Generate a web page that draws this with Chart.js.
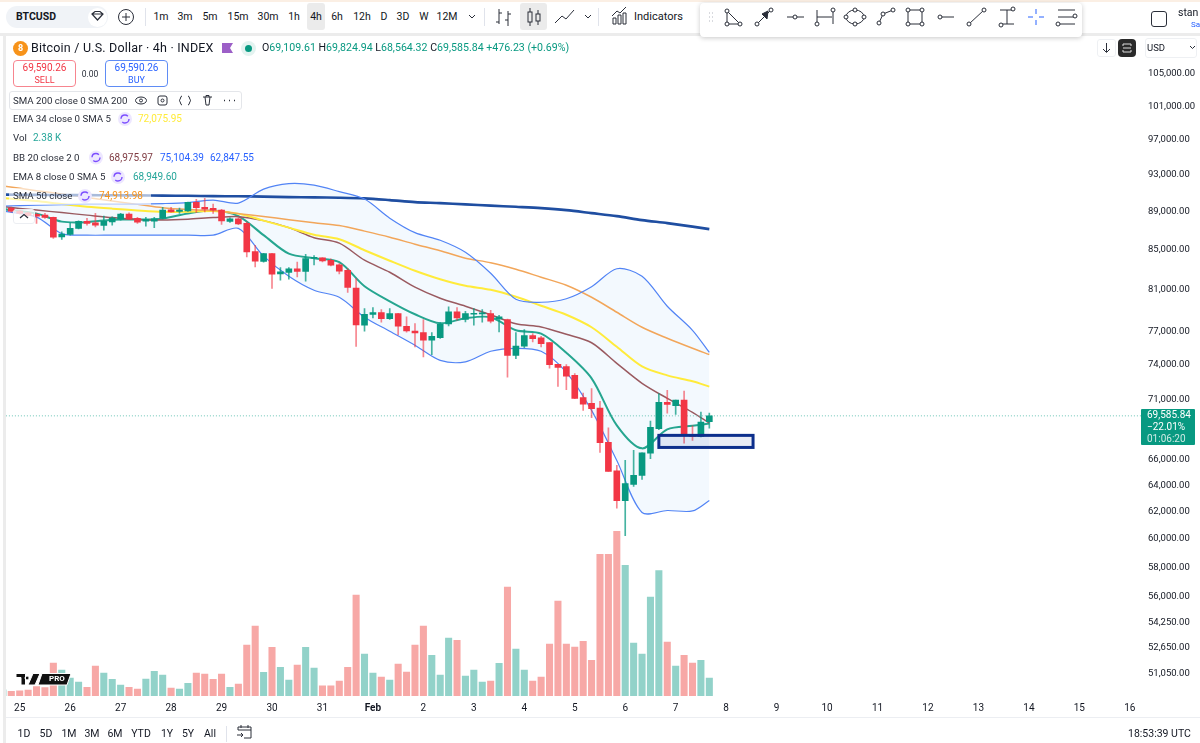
<!DOCTYPE html>
<html>
<head>
<meta charset="utf-8">
<title>BTCUSD 4h</title>
<script src="https://cdn.jsdelivr.net/npm/chart.js@4"></script>
<style>
html, body { margin: 0; padding: 0; background: #fff; }
body { width: 1200px; height: 743px; overflow: hidden; position: relative; font-family: Roboto, sans-serif; color: #131722; }
canvas { position: absolute; left: 0; top: 0; }
#icons { position: absolute; left: 0; top: 0; pointer-events: none; }
.t { position: absolute; white-space: nowrap; font-size: 10.5px; line-height: 14px; }
.c { transform: translateX(-50%); }
.box { position: absolute; box-sizing: border-box; }
.tf { font-size: 10.5px; top: 10px; }
.rng { font-size: 10.5px; top: 727px; }
.lg { font-size: 9.7px; color: #2a2e39; left: 13px; }
</style>
</head>
<body>
<canvas id="btc" width="1200" height="743"></canvas>

<!-- page chrome -->
<div class="box" style="left:0;top:0;width:1200px;height:2px;background:#fbefe4"></div>
<div class="box" style="left:0;top:2px;width:1200px;height:31px;background:#fff"></div>
<div class="box" style="left:0;top:33px;width:1200px;height:2.5px;background:#ececec"></div>
<div class="box" style="left:3px;top:33px;width:2.5px;height:710px;background:#ececec"></div>
<div class="box" style="left:6px;top:717px;width:1194px;height:1px;background:#eceef2"></div>

<!-- top toolbar -->
<div class="box" style="left:6px;top:6px;width:102px;height:22px;border-radius:11px;background:#f0f3f7"></div>
<div class="box" style="left:88px;top:7.5px;width:19px;height:19px;border-radius:50%;background:#fff"></div>
<div class="t" style="left:16px;top:10px;font-weight:700;font-size:10.5px">BTCUSD</div>
<div class="box" style="left:307px;top:3px;width:18px;height:27px;border-radius:3px;background:#ebebeb"></div>
<div class="box" style="left:520px;top:3px;width:27px;height:27px;border-radius:3px;background:#ebebeb"></div>
<div class="t c tf" style="left:161px">1m</div>
<div class="t c tf" style="left:185px">3m</div>
<div class="t c tf" style="left:210px">5m</div>
<div class="t c tf" style="left:238px">15m</div>
<div class="t c tf" style="left:268px">30m</div>
<div class="t c tf" style="left:294px">1h</div>
<div class="t c tf" style="left:316px">4h</div>
<div class="t c tf" style="left:337px">6h</div>
<div class="t c tf" style="left:362px">12h</div>
<div class="t c tf" style="left:384px">D</div>
<div class="t c tf" style="left:403px">3D</div>
<div class="t c tf" style="left:424px">W</div>
<div class="t c tf" style="left:447px">12M</div>
<div class="t tf" style="left:634px;font-size:11px">Indicators</div>

<!-- floating drawing toolbar -->
<div class="box" style="left:700px;top:3px;width:382px;height:34px;border-radius:4px;background:#fff;box-shadow:0 1px 5px rgba(0,0,0,.22)"></div>

<!-- account corner -->
<div class="box" style="left:1151px;top:11px;width:16px;height:16px;border:1.3px solid #2a2e39;border-radius:3px"></div>
<div class="t" style="left:1178px;top:6px;font-size:10.5px">stan</div>
<div class="t" style="left:1191px;top:18px;font-size:8px;color:#2962ff">Sa</div>

<!-- symbol header -->
<div class="box" style="left:13px;top:41px;width:15px;height:15px;border-radius:50%;background:#f7931a;color:#fff;font-size:9px;font-weight:700;text-align:center;line-height:15px">8</div>
<div class="t" style="left:31px;top:41px;font-size:12.5px;letter-spacing:.2px">Bitcoin / U.S. Dollar · 4h · INDEX</div>
<div class="box" style="left:241px;top:41px;width:15px;height:15px;border-radius:50%;background:#e3f3f0"></div>
<div class="box" style="left:245px;top:45px;width:7px;height:7px;border-radius:50%;background:#089981"></div>
<div class="t" style="left:262px;top:41px;font-size:10.6px;color:#089981"><span style="color:#131722">O</span>69,109.61 <span style="color:#131722">H</span>69,824.94 <span style="color:#131722">L</span>68,564.32 <span style="color:#131722">C</span>69,585.84 +476.23 (+0.69%)</div>

<!-- sell / buy -->
<div class="box" style="left:13px;top:60px;width:63px;height:27px;border:1px solid #f7858f;border-radius:4px"></div>
<div class="t c" style="left:44.5px;top:61px;color:#f23645;font-size:10px">69,590.26</div>
<div class="t c" style="left:44.5px;top:73px;color:#f23645;font-size:9px">SELL</div>
<div class="t c" style="left:90px;top:67px;font-size:8.5px;color:#2a2e39">0.00</div>
<div class="box" style="left:105px;top:60px;width:63px;height:27px;border:1px solid #5f8cf5;border-radius:4px"></div>
<div class="t c" style="left:136.5px;top:61px;color:#2962ff;font-size:10px">69,590.26</div>
<div class="t c" style="left:136.5px;top:73px;color:#2962ff;font-size:9px">BUY</div>

<!-- indicator legend -->
<div class="box" style="left:9px;top:91px;width:233px;height:19px;border:1px solid #e4e6ea;border-radius:3px;background:#fff"></div>
<div class="t lg" style="top:94px">SMA 200 close 0 SMA 200</div>
<div class="t lg" style="top:112px">EMA 34 close 0 SMA 5</div>
<div class="t" style="left:138px;top:112px;font-size:10px;color:#ffeb3b">72,075.95</div>
<div class="t lg" style="top:131px">Vol</div>
<div class="t" style="left:33px;top:131px;font-size:10px;color:#26a69a">2.38 K</div>
<div class="t lg" style="top:151px">BB 20 close 2 0</div>
<div class="t" style="left:109px;top:151px;font-size:10px;color:#7f3b42">68,975.97</div>
<div class="t" style="left:160px;top:151px;font-size:10px;color:#2962ff">75,104.39</div>
<div class="t" style="left:210px;top:151px;font-size:10px;color:#2962ff">62,847.55</div>
<div class="t lg" style="top:170px">EMA 8 close 0 SMA 5</div>
<div class="t" style="left:133px;top:170px;font-size:10px;color:#26a69a">68,949.60</div>
<div class="box" style="left:9px;top:188px;width:142px;height:17px;background:rgba(255,255,255,.62)"></div>
<div class="t lg" style="top:189px">SMA 50 close</div>
<div class="t" style="left:99px;top:189px;font-size:10px;color:#f7931a">74,913.98</div>
<div class="box" style="left:13px;top:209px;width:22px;height:15px;border:1px solid #eceef2;border-radius:3px;background:rgba(255,255,255,.75)"></div>

<!-- price axis furniture -->
<div class="box" style="left:1097px;top:39px;width:19px;height:18px;border:1px solid #eef0f3;border-radius:3px"></div>
<div class="box" style="left:1118px;top:39px;width:18px;height:18px;border-radius:4px;background:#2a2a2a"></div>
<div class="box" style="left:1145px;top:38px;width:52px;height:20px;border:1px solid #eef0f3;border-radius:3px"></div>
<div class="t" style="left:1147px;top:41px;font-size:9.5px">USD</div>
<div class="box" style="left:1141px;top:409px;width:54px;height:36px;background:#089981;border-radius:1px"></div>
<div class="t" style="left:1147px;top:409px;font-size:10px;line-height:12px;color:#fff">69,585.84<br>−22.01%<br><span style="color:#cdeae4">01:06:20</span></div>

<!-- TradingView mark, sits over the volume bars -->
<div class="t" style="left:49px;top:673px;font-size:8px;line-height:12px;font-weight:700;color:#fff;z-index:2">PRO</div>

<!-- bottom bar -->
<div class="t c rng" style="left:24px">1D</div>
<div class="t c rng" style="left:46px">5D</div>
<div class="t c rng" style="left:69px">1M</div>
<div class="t c rng" style="left:92px">3M</div>
<div class="t c rng" style="left:115px">6M</div>
<div class="t c rng" style="left:141px">YTD</div>
<div class="t c rng" style="left:167px">1Y</div>
<div class="t c rng" style="left:188px">5Y</div>
<div class="t c rng" style="left:210px">All</div>
<div class="t rng" style="left:1128px">18:53:39 UTC</div>

<svg id="icons" width="1200" height="743" fill="none" stroke="#2a2e39" stroke-width="1">
  <!-- symbol row -->
  <path d="M92 14 l3-2.5 h5 l3 2.5 -5.5 6z M92 14h11" stroke-width="1.2"/>
  <circle cx="126" cy="17" r="7.5"/><path d="M122 17h8 M126 13v8"/>
  <path d="M145.500 8v18 M484.500 8v18 M598.500 8v18 M226.500 726v16" stroke="#e0e3eb"/>
  <path d="M469 15l3 3 3-3 M585 15l3 3 3-3"/>
  <!-- bar / candle / line style -->
  <path d="M499 9v15 M499 22h-3 M508 11v15 M508 14h3 M508 20h-3 M499 13h3"/>
  <rect x="528" y="12" width="4" height="10"/><rect x="536" y="14" width="4" height="7"/><path d="M530 8v4 M530 22v4 M538 10v4 M538 21v4"/>
  <path d="M555 23l7-7 4 3 8-9"/>
  <path d="M613 24v-6h3v6z M618 24v-9h3v9z M623 24v-11h3v11z M612 16l5-5 3 2 6-6"/>
  <!-- drawing tools -->
  <g fill="#fff">
    <path d="M727 11v13h13z"/><circle cx="727" cy="11" r="2"/><circle cx="727" cy="24" r="2"/><circle cx="740" cy="24" r="2"/>
    <path d="M757 24l14-14"/><circle cx="757" cy="24" r="2"/><circle cx="771" cy="10" r="2"/><path d="M762 14l5 5 1-8z" fill="#2a2e39"/>
    <path d="M787 17h17"/><circle cx="795" cy="17" r="2"/>
    <path d="M817 10v14 M833 10v14 M817 17h15"/><circle cx="817" cy="24" r="2"/><circle cx="833" cy="10" r="2"/>
    <ellipse cx="855" cy="17" rx="9" ry="7"/><circle cx="855" cy="10" r="2"/><circle cx="855" cy="24" r="2"/><circle cx="846" cy="17" r="2"/><circle cx="864" cy="17" r="2"/>
    <path d="M879 23l4-9 10-4" fill="none"/><circle cx="879" cy="23" r="2"/><circle cx="883" cy="14" r="2"/><circle cx="893" cy="10" r="2"/>
    <rect x="908" y="10" width="14" height="14"/><circle cx="908" cy="10" r="2"/><circle cx="922" cy="10" r="2"/><circle cx="908" cy="24" r="2"/><circle cx="922" cy="24" r="2"/>
    <path d="M939 17h15"/><circle cx="940" cy="17" r="2"/>
    <path d="M969 24l15-14"/><circle cx="969" cy="24" r="2"/><circle cx="984" cy="10" r="2"/>
    <path d="M1000 10h14 M1000 24h14 M1007 10v14"/><circle cx="1013" cy="9" r="2"/><circle cx="1001" cy="25" r="2"/>
    <path d="M1058 10h17 M1058 17h17 M1058 24h17"/><circle cx="1075" cy="16" r="2"/><circle cx="1058" cy="24" r="2"/>
  </g>
  <path d="M1036 9v5 M1036 20v5 M1028 17h5 M1039 17h5" stroke="#2962ff"/>
  <path d="M709 13h1 M712 13h1 M709 17h1 M712 17h1 M709 21h1 M712 21h1" stroke="#b2b5be"/>
  <!-- header bits -->
  <path d="M222 43h11l-3 5 3 5h-11z" fill="#9c5fc7" stroke="none"/>
  <path d="M1106.500 43v9 M1103 49l3.500 3.500 3.500-3.500 M1190 46l2.500 2.500 2.500-2.500"/>
  <path d="M1123 46v-2h8v2 M1123 50v2h8v-2 M1123 48h8" stroke="#ddd"/>
  <!-- legend icons -->
  <ellipse cx="141" cy="100.500" rx="5.500" ry="3.500"/><circle cx="141" cy="100.500" r="1.500"/>
  <rect x="158" y="96" width="9" height="9" rx="2"/><circle cx="162.500" cy="100.500" r="1.500"/>
  <path d="M182 96c-2 0-1 4-3 4.500 2 .5 1 4.500 3 4.500 M188 96c2 0 1 4 3 4.500 -2 .5 -1 4.500 -3 4.500"/>
  <path d="M203 97h9 M205 97l1 8h3l1-8 M206 97v-1.500h3v1.500"/>
  <path d="M224 100.500h1 M229 100.500h1 M234 100.500h1" stroke-width="1.600"/>
  <g fill="#ede7ff" stroke="none">
    <circle cx="125" cy="119" r="7"/><circle cx="96" cy="157.500" r="7"/><circle cx="118" cy="177" r="7"/><circle cx="85" cy="196" r="7"/>
  </g>
  <g stroke="#7b4dff" stroke-width="1.400" stroke-dasharray="9 3.500">
    <circle cx="125" cy="119" r="4"/><circle cx="96" cy="157.500" r="4"/><circle cx="118" cy="177" r="4"/><circle cx="85" cy="196" r="4"/>
  </g>
  <path d="M20 218l4-3.500 4 3.500" stroke-width="1.200"/>
  <!-- TV PRO logo -->
  <g fill="#111" stroke="#fff" stroke-width="1">
    <path d="M16 673.500h9.500v11.500h-4.500v-7.500h-5z M27 676a2 2 0 1 0 .1 0z M33 673.500h7l-5 11.500h-7z M42 673.500h29l-4 11.500h-29z"/>
  </g>
  <!-- calendar -->
  <path d="M238 730v-3h13v11h-7 M238 730h13 M241 725v3 M248 725v3 M237 735h6 M241 733l2 2-2 2"/>
</svg>

<script>
// x position of each 4h bar, the first one is cut off by the left edge
const barIndex = [-1, 0, 1, 2, 3, 4, 5, 6, 7, 8, 9, 10, 11, 12, 13, 14, 15, 16, 17, 18, 19, 20, 21, 22, 23, 24, 25, 26, 27, 28, 29, 30, 31, 32, 33, 34, 35, 36, 37, 38, 39, 40, 41, 42, 43, 44, 45, 46, 47, 48, 49, 50, 51, 52, 53, 54, 55, 56, 57, 58, 59, 60, 61, 62, 63, 64, 65, 66, 67, 68, 69, 70, 71, 72, 73, 74, 75, 76, 77, 78, 79, 80, 81, 82, 83];

const opens = [89300, 89322, 89029, 88847, 88676, 88600, 88355, 86310, 86560, 87195, 87930, 87785, 87510, 87890, 88170, 88710, 88250, 87960, 87960, 88280, 89170, 89000, 89060, 89970, 89430, 89320, 89136, 87930, 88200, 87720, 84800, 83790, 84600, 82550, 82690, 83050, 82790, 84120, 84170, 83920, 83450, 82915, 81150, 77600, 78610, 78800, 78230, 78700, 77510, 77070, 76920, 76212, 76440, 77720, 78860, 78140, 78640, 78670, 78700, 78190, 78140, 74846, 75665, 76645, 76425, 76000, 74035, 73830, 73060, 71130, 70640, 70240, 67400, 65135, 62825, 64070, 64770, 66535, 68520, 70730, 70450, 70920, 68050, 67890, 69109.61];
const highs = [89500, 89460, 89136, 88922, 88815, 88790, 88390, 86835, 87785, 87995, 88250, 88780, 88490, 88420, 88790, 88850, 88360, 88360, 88360, 89430, 89430, 89350, 90000, 90290, 90400, 89785, 89210, 88310, 88310, 87890, 85450, 84630, 84630, 83190, 83190, 83720, 84520, 84390, 84190, 84050, 83590, 83090, 82090, 79180, 79270, 79080, 79180, 78730, 78390, 77760, 78140, 76920, 77860, 79340, 79270, 78920, 79180, 79080, 79015, 78540, 78170, 76920, 77200, 76830, 76580, 76000, 74035, 74010, 73210, 71525, 71900, 70810, 68600, 65555, 65950, 66750, 66565, 69150, 71470, 71755, 70920, 71695, 68760, 69905, 69824.94];
const lows = [89200, 88922, 88708, 88495, 87720, 88240, 86140, 86040, 86490, 87150, 87540, 87360, 87013, 87540, 88067, 88140, 87720, 87440, 87260, 88200, 88920, 88780, 89000, 88850, 88955, 88780, 87610, 87825, 87575, 84253, 83250, 83720, 81112, 81925, 82025, 82250, 81830, 83450, 83750, 83350, 82550, 80720, 75640, 77040, 78290, 77880, 78140, 76700, 76950, 75600, 74690, 74910, 76380, 77530, 78072, 77910, 77600, 77880, 77820, 76980, 72910, 74550, 75545, 76055, 75600, 73700, 72103, 71815, 71040, 70048, 69435, 66590, 65080, 62270, 60235, 63915, 64455, 66085, 68440, 69820, 69710, 67340, 67560, 67835, 68564.32];
const closes = [89420, 89029, 88783, 88560, 88494, 88350, 86278, 86593, 87195, 87930, 87720, 87540, 87930, 88280, 88710, 88170, 87860, 88140, 88200, 89136, 88955, 89136, 89970, 89390, 89245, 89136, 87995, 88200, 87680, 84763, 83820, 84600, 82520, 82750, 83050, 82790, 84090, 84190, 83850, 83420, 82820, 81210, 77630, 78640, 78800, 78230, 78700, 77510, 77070, 76890, 76212, 76580, 77700, 78860, 78290, 78700, 78700, 78730, 77980, 78390, 74846, 75690, 76645, 76370, 75910, 74010, 73770, 73000, 71070, 70580, 70190, 67375, 65080, 62825, 64146, 64770, 66565, 68630, 70730, 70560, 70920, 68030, 67890, 69070, 69585.84];

// volume in thousands
const volume = [0.8, 0.62, 0.70, 0.79, 1.23, 1.10, 4.36, 3.43, 2.38, 1.85, 1.15, 3.96, 3.04, 2.2, 1.45, 1.15, 0.92, 2.24, 3.26, 2.77, 1.06, 0.92, 1.68, 3.04, 2.9, 2.2, 2.9, 1.15, 1.58, 6.73, 9.24, 3.13, 6.43, 3.79, 2.11, 4.09, 6.43, 3.7, 1.36, 1.36, 1.98, 3.79, 13.33, 5.54, 3.04, 2.51, 2.11, 4.22, 3.17, 6.73, 9.24, 5.37, 2.77, 7.66, 7.35, 2.64, 3.43, 1.85, 1.98, 4.32, 14.39, 6.2, 3.43, 1.98, 2.51, 6.86, 12.54, 6.86, 6.47, 7.22, 4.71, 18.74, 18.74, 21.78, 17.29, 7, 5.54, 13.07, 16.59, 7.13, 3.96, 5.37, 4.36, 4.71, 2.38];

// indicators read every third bar
const lineIndex = [-1, 3, 6, 9, 12, 15, 18, 21, 24, 27, 30, 33, 36, 39, 42, 45, 48, 51, 54, 57, 60, 63, 66, 69, 72, 75, 78, 81, 83];
const sma200 = [90818, 90785, 90763, 90763, 90741, 90730, 90708, 90686, 90654, 90632, 90600, 90545, 90513, 90480, 90404, 90218, 90002, 89894, 89754, 89620, 89490, 89350, 89136, 88815, 88490, 88067, 87750, 87380, 87118];
const sma50 = [91752, 91250, 90872, 90490, 90110, 89754, 89386, 89190, 89082, 88760, 88460, 88120, 87785, 87490, 86910, 86280, 85555, 84885, 84125, 83670, 83015, 82220, 81435, 80260, 78825, 77415, 76395, 75480, 74914];
const ema34 = [90436, 90110, 89785, 89510, 89295, 89105, 88955, 88955, 89050, 88760, 88015, 87275, 86540, 86070, 84936, 83870, 82865, 82025, 81385, 80990, 80310, 79445, 78590, 77415, 75620, 73850, 73060, 72540, 72076];
const bbBasis = [89510, 89136, 88868, 88600, 88335, 88140, 88088, 88173, 88335, 88440, 88015, 87275, 86225, 85660, 83920, 82715, 81240, 80165, 79400, 78590, 77745, 77445, 76765, 75985, 74125, 72365, 71070, 69880, 68976];
const ema8 = [89245, 88760, 87910, 87860, 88120, 88140, 88225, 88780, 89082, 88490, 86490, 84580, 84125, 83720, 81335, 79875, 78640, 77790, 78260, 78355, 77134, 76830, 75075, 72800, 68795, 66915, 68460, 68755, 68950];
const bbUpper = [89570, 89680, 89730, 89785, 89785, 89785, 89840, 89950, 90218, 89894, 91415, 92025, 91860, 91140, 90327, 88280, 86750, 85965, 84730, 82620, 80070, 79780, 80120, 81285, 83065, 82320, 79400, 77134, 75104];
const bbLower = [89029, 88390, 86645, 86490, 86490, 86490, 86490, 86490, 86490, 87195, 84330, 82320, 80943, 80260, 78355, 77040, 75755, 74395, 74260, 75210, 75480, 75210, 73325, 70048, 65950, 61945, 62095, 62060, 62848];

const priceTicks = [105000, 101000, 97000, 93000, 89000, 85000, 81000, 77000, 74000, 71000, 66000, 64000, 62000, 60000, 58000, 56000, 54250, 52650, 51050];
const dayLabels = ['25', '26', '27', '28', '29', '30', '31', 'Feb', '2', '3', '4', '5', '6', '7', '8', '9', '10', '11', '12', '13', '14', '15', '16'];
const dayTicks = [1, 7, 13, 19, 25, 31, 37, 43, 49, 55, 61, 67, 73, 79, 85, 91, 97, 103, 109, 115, 121, 127, 133];

// drawn box under the last candles
const zoneBars = [77, 88.2];
const zonePrices = [67970, 66990];
const lastPrice = 69585.84;

const isUp = i => closes[i] >= opens[i];
const bodyColors = barIndex.map((_, i) => isUp(i) ? '#089981' : '#f23645');
const wickColors = barIndex.map((_, i) => isUp(i) ? 'rgba(8,153,129,.75)' : 'rgba(242,54,69,.6)');
const volColors = barIndex.map((_, i) => isUp(i) ? '#92d2c9' : '#f7a8a6');

const toPoints = values => values.map((v, i) => ({ x: lineIndex[i], y: v }));

function lineSet(label, values, color, width, extra) {
    return Object.assign({
        type: 'line',
        label: label,
        data: toPoints(values),
        borderColor: color,
        borderWidth: width,
        pointRadius: 0,
        tension: 0.3,
        fill: false,
        yAxisID: 'y',
        order: 5
    }, extra || {});
}

// blue rectangle, goes through the scales like everything else
const zonePlugin = {
    id: 'zone',
    afterDatasetsDraw(chart) {
        const { x, y } = chart.scales;
        const ctx = chart.ctx;
        const left = x.getPixelForValue(zoneBars[0]);
        const right = x.getPixelForValue(zoneBars[1]);
        const top = y.getPixelForValue(zonePrices[0]);
        const bottom = y.getPixelForValue(zonePrices[1]);
        ctx.save();
        ctx.fillStyle = 'rgba(13,47,140,.09)';
        ctx.strokeStyle = '#0d2f8c';
        ctx.lineWidth = 3;
        ctx.fillRect(left, top, right - left, bottom - top);
        ctx.strokeRect(left, top, right - left, bottom - top);
        ctx.restore();
    }
};

new Chart(document.getElementById('btc').getContext('2d'), {
    type: 'bar',
    plugins: [zonePlugin],
    data: {
        labels: barIndex,
        datasets: [
            { label: 'Vol', data: volume, backgroundColor: volColors, barThickness: 6.4, grouped: false, yAxisID: 'yVol', order: 10 },
            lineSet('BB upper', bbUpper, '#5284f5', 1.2, { fill: '+1', backgroundColor: '#f3f9fe' }),
            lineSet('BB lower', bbLower, '#5284f5', 1.2),
            lineSet('SMA 200', sma200, '#1f4ea1', 2.6),
            lineSet('SMA 50', sma50, '#f2a65a', 1.5),
            lineSet('EMA 34', ema34, '#ffeb3b', 2),
            lineSet('BB basis', bbBasis, '#9a5a60', 1.5),
            lineSet('EMA 8', ema8, '#26a690', 2),
            {
                type: 'line',
                label: 'Last',
                data: [{ x: -1, y: lastPrice }, { x: 135, y: lastPrice }],
                borderColor: '#6cc5b6',
                borderWidth: 1,
                borderDash: [1, 2],
                pointRadius: 0,
                yAxisID: 'y',
                order: 4
            },
            { label: 'Wick', data: barIndex.map((_, i) => [lows[i], highs[i]]), backgroundColor: wickColors, barThickness: 1, grouped: false, yAxisID: 'y', order: 2 },
            { label: 'Body', data: barIndex.map((_, i) => [opens[i], closes[i]]), backgroundColor: bodyColors, barThickness: 6, minBarLength: 1, grouped: false, yAxisID: 'y', order: 1 }
        ]
    },
    options: {
        responsive: false,
        animation: false,
        events: [],
        layout: { autoPadding: false, padding: { left: 5.5, top: 63, right: 0, bottom: 26 } },
        plugins: {
            legend: { display: false },
            tooltip: { enabled: false },
            filler: { drawTime: 'beforeDatasetsDraw' }
        },
        scales: {
            x: {
                type: 'linear',
                min: -0.69,
                max: 134.33,
                bounds: 'data',
                offset: false,
                grid: { display: false, drawTicks: false, offset: false },
                border: { display: false },
                afterBuildTicks: scale => { scale.ticks = dayTicks.map(v => ({ value: v })); },
                afterFit: scale => { scale.height = 21; },
                ticks: {
                    autoSkip: false,
                    maxRotation: 0,
                    padding: 6,
                    color: '#131722',
                    font: ctx => ({ family: 'Roboto', size: 10, weight: dayLabels[ctx.index] === 'Feb' ? '700' : '400' }),
                    callback: (v, i) => dayLabels[i]
                }
            },
            y: {
                type: 'logarithmic',
                position: 'right',
                min: 49670,
                max: 106401,
                bounds: 'data',
                grid: { display: false, drawTicks: false },
                border: { display: false },
                afterBuildTicks: scale => { scale.ticks = priceTicks.map(v => ({ value: v })); },
                afterFit: scale => { scale.width = 59; },
                ticks: {
                    autoSkip: false,
                    padding: 7,
                    color: '#131722',
                    font: { family: 'Roboto', size: 9.5 },
                    callback: v => v.toLocaleString('en-US', { minimumFractionDigits: 2 })
                }
            },
            yVol: { type: 'linear', display: false, bounds: 'data', min: 0, max: 83.7 }
        }
    }
});
</script>
</body>
</html>
